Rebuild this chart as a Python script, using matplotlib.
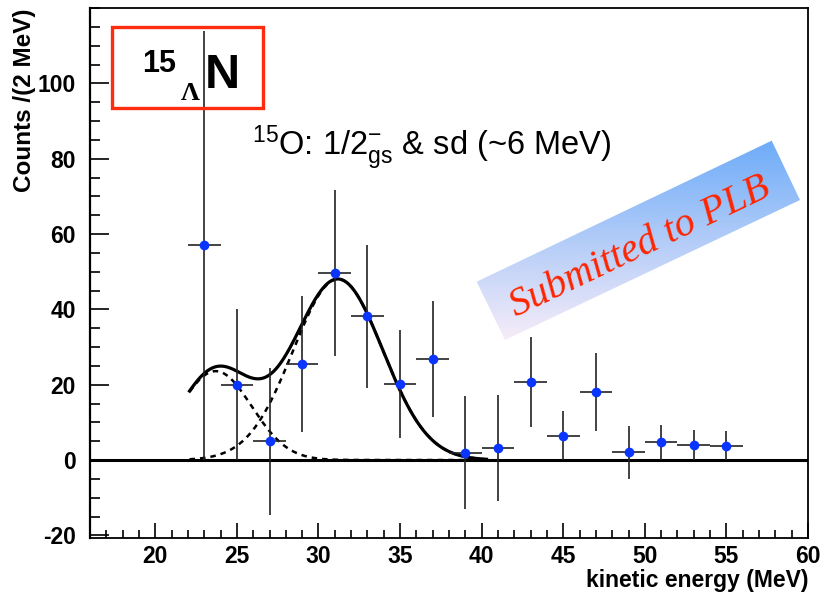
import numpy as np
import matplotlib
matplotlib.use("Agg")
import matplotlib.pyplot as plt
from matplotlib.patches import Rectangle, Polygon
from matplotlib.ticker import MultipleLocator

plt.rcParams['font.family'] = ['Liberation Sans', 'DejaVu Sans']
plt.rcParams['mathtext.fontset'] = 'custom'
plt.rcParams['mathtext.rm'] = 'Liberation Sans'
plt.rcParams['mathtext.it'] = 'Liberation Sans:italic'
plt.rcParams['mathtext.bf'] = 'Liberation Sans:bold'
plt.rcParams['axes.unicode_minus'] = False

# ---- data: kinetic energy spectrum, 2 MeV bins ----
energy = [23, 25, 27, 29, 31, 33, 35, 37, 39, 41, 43, 45, 47, 49, 51, 53, 55]
counts = [57, 20, 5, 25.5, 49.6, 38.2, 20.2, 26.8, 1.9, 3.2, 20.7, 6.4, 18, 2, 4.7, 4, 3.8]
count_err = [57, 20, 19.5, 18, 22, 19, 14.3, 15.4, 15, 14, 12, 6.5, 10.4, 7, 4.7, 4, 3.8]
bin_half_width = 1.0

# ---- two-gaussian fit: (amplitude, mean, sigma) ----
peak_gs = (23.6, 23.7, 2.2)
peak_sd = (48.0, 31.2, 2.75)
fit_range = (22.1, 40.3)

W, H = 830, 598
fig = plt.figure(figsize=(W / 100, H / 100), dpi=100)
ax = fig.add_axes([90 / W, 1 - 538 / H, (808 - 90) / W, (538 - 8) / H])


def gauss(x, a, m, s):
    return a * np.exp(-0.5 * ((x - m) / s) ** 2)


xf = np.linspace(fit_range[0], fit_range[1], 500)
g1 = gauss(xf, *peak_gs)
g2 = gauss(xf, *peak_sd)

ax.axhline(0, color='black', lw=2.2, zorder=2)
ax.plot(xf, g1, color='black', lw=1.8, ls=(0, (2.2, 2.0)), zorder=3)
ax.plot(xf, g2, color='black', lw=1.8, ls=(0, (2.2, 2.0)), zorder=3)
ax.plot(xf, g1 + g2, color='black', lw=2.3, zorder=4)

ax.errorbar(energy, counts, yerr=count_err, xerr=bin_half_width, fmt='none',
            ecolor='#222222', elinewidth=1.2, capsize=0, zorder=5)
ax.plot(energy, counts, 'o', color='#0a35ff', markersize=7, mec='none', zorder=6)

ax.set_xlim(16, 60)
ax.set_ylim(-20.7, 120)

ax.xaxis.set_minor_locator(MultipleLocator(1))
ax.yaxis.set_minor_locator(MultipleLocator(5))
ax.set_xticks([20, 25, 30, 35, 40, 45, 50, 55, 60])
ax.set_yticks([-20, 0, 20, 40, 60, 80, 100])

ax.tick_params(axis='both', which='both', direction='in', top=False, right=False,
               width=1.2, labelsize=16.5)
ax.tick_params(axis='x', which='major', length=11, pad=5)
ax.tick_params(axis='x', which='minor', length=5.5)
ax.tick_params(axis='y', which='major', length=14, pad=10)
ax.tick_params(axis='y', which='minor', length=7)
for lab in ax.get_xticklabels() + ax.get_yticklabels():
    lab.set_fontweight('bold')

for side in ['top', 'right', 'bottom']:
    ax.spines[side].set_linewidth(1.3)
ax.spines['left'].set_linewidth(1.6)

ax.set_xlabel('kinetic energy (MeV)', fontsize=16.5, fontweight='bold', loc='right', labelpad=1)
ax.set_ylabel('Counts /(2 MeV)', fontsize=17.5, fontweight='bold', loc='top')
ax.yaxis.set_label_coords(-0.0755, 1.0)


def fpos(px, py):
    return px / W, 1 - py / H


# hypernucleus label in a red box
fig.patches.append(Rectangle(fpos(111.7, 108), (263 - 111.7) / W, (108 - 26.7) / H,
                             transform=fig.transFigure, fill=False,
                             edgecolor='#ff2d10', lw=2.4, zorder=10))
fig.text(*fpos(142, 71.5), '15', fontsize=22, fontweight='bold', ha='left', va='baseline')
fig.text(*fpos(181, 99.5), 'Λ', fontsize=19, fontweight='bold', ha='left', va='baseline',
         family=['Liberation Serif', 'DejaVu Serif'])
fig.text(*fpos(205, 87.5), 'N', fontsize=35, fontweight='bold', ha='left', va='baseline')

# state description
fig.text(*fpos(252, 155), r'$^{15}$O: 1/2$^{-}_{\rm gs}$ & sd (~6 MeV)',
         fontsize=23.5, ha='left', va='baseline')

# "Submitted to PLB" stamp with a gradient band
ov = fig.add_axes([0, 0, 1, 1], zorder=20)
ov.set_xlim(0, W)
ov.set_ylim(H, 0)
ov.axis('off')
corners = np.array([[476.7, 281.7], [771.7, 140.7], [800, 200], [505, 340]])
band = Polygon(corners, closed=True, facecolor='none', edgecolor='none')
ov.add_patch(band)
top_c = np.array([0x6a, 0xaa, 0xf8]) / 255
bot_c = np.array([0xfa, 0xee, 0xf8]) / 255
yy = np.linspace(0, 1, 256)[:, None, None]
grad = top_c[None, None, :] * (1 - yy) + bot_c[None, None, :] * yy
grad = np.repeat(grad, 2, axis=1)
im = ov.imshow(grad, extent=(470, 805, 345, 135), aspect='auto', interpolation='bilinear')
im.set_clip_path(band)
ov.text(640, 247, 'Submitted to PLB', rotation=25.5, rotation_mode='anchor',
        ha='center', va='center', fontsize=29, style='italic', color='#ff2400',
        family=['Liberation Serif', 'DejaVu Serif'])

fig.savefig('out.png', dpi=100)
